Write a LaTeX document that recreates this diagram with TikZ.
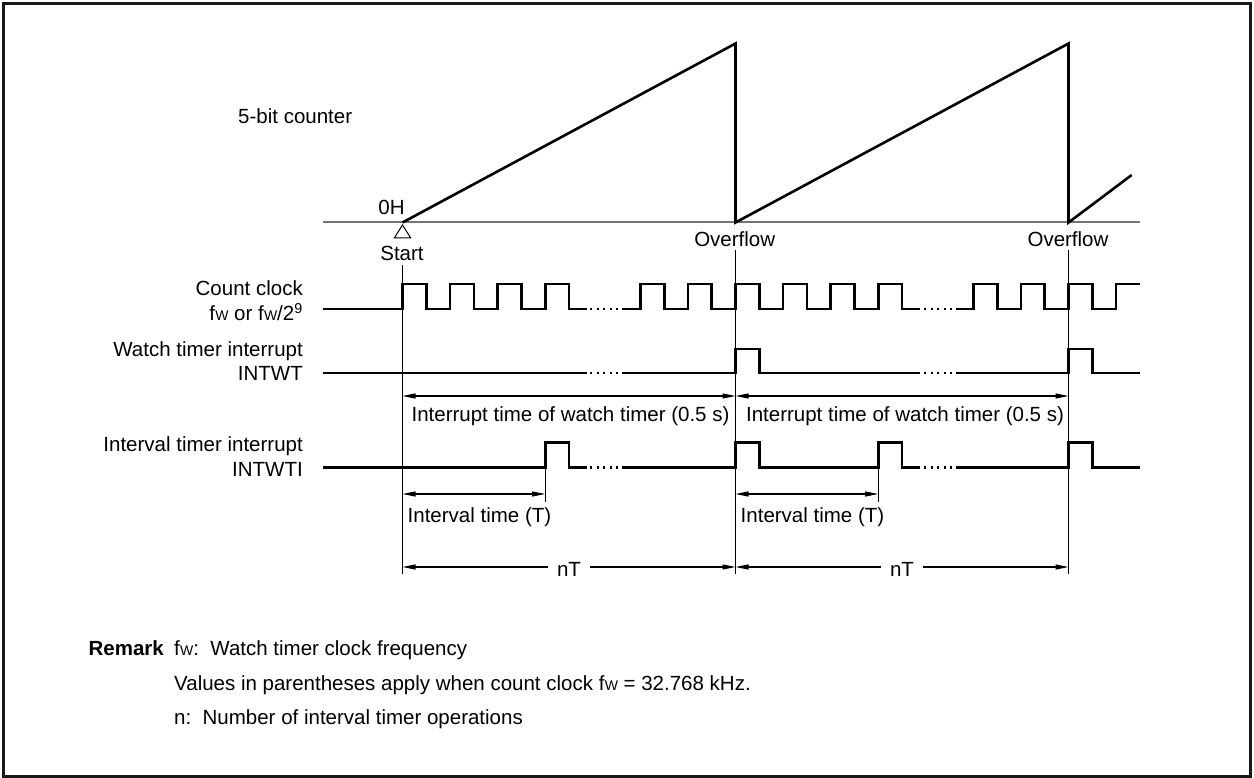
\documentclass[tikz,border=0pt]{standalone}
\usepackage{fontspec}
\setmainfont{Liberation Sans}
\usetikzlibrary{arrows.meta}
\newcommand\dgfont{\fontsize{20.5}{24}\selectfont}
\newcommand\fW{f\kern0.2pt{\fontsize{14}{14}\selectfont W}}
\begin{document}
\begin{tikzpicture}[x=1pt,y=-1pt,
  sig/.style={line width=2.6pt, line join=miter, line cap=butt},
  dotseg/.style={line width=2.3pt, dash pattern=on 2pt off 4.5pt},
  guide/.style={line width=1.1pt},
  dim/.style={line width=1.1pt, {Triangle[length=13pt,width=5pt]}-{Triangle[length=13pt,width=5pt]}},
  lbl/.style={font=\dgfont, inner sep=0pt},
]
\useasboundingbox (0,0) rectangle (1254,778);
\draw[line width=2.2pt, black!90] (3.5,3.5) rectangle (1250.5,776.5);

% counter
\draw[line width=2pt, black!55] (323,222.5) -- (1140,222.5);
\draw[sig] (402.5,222.5) -- (735.5,43.5) -- (735.5,222.5) -- (1068.5,43.5) -- (1068.5,222.5) -- (1131.7,175);
\draw[line width=1pt, fill=white] (402.5,225) -- (394.3,238) -- (410.7,238) -- cycle;

% count clock
\draw[sig] (323,309) -- (402.5,309) -- (402.5,284) -- (426.3,284) -- (426.3,309) -- (450.1,309) -- (450.1,284) -- (473.9,284) -- (473.9,309) -- (497.6,309) -- (497.6,284) -- (521.4,284) -- (521.4,309) -- (545.2,309) -- (545.2,284) -- (569,284) -- (569,309) -- (586.5,309);
\draw[dotseg] (590,309) -- (618,309);
\draw[sig] (622,309) -- (640.4,309) -- (640.4,284) -- (664.2,284) -- (664.2,309) -- (687.9,309) -- (687.9,284) -- (711.7,284) -- (711.7,309) -- (735.5,309) -- (735.5,284) -- (759.3,284) -- (759.3,309) -- (783.1,309) -- (783.1,284) -- (806.9,284) -- (806.9,309) -- (830.6,309) -- (830.6,284) -- (854.4,284) -- (854.4,309) -- (878.2,309) -- (878.2,284) -- (902,284) -- (902,309) -- (920,309);
\draw[dotseg] (924,309) -- (952,309);
\draw[sig] (956,309) -- (973.4,309) -- (973.4,284) -- (997.2,284) -- (997.2,309) -- (1020.9,309) -- (1020.9,284) -- (1044.7,284) -- (1044.7,309) -- (1068.5,309) -- (1068.5,284) -- (1092.3,284) -- (1092.3,309) -- (1116.1,309) -- (1116.1,284) -- (1140,284);

% INTWT
\draw[sig] (323,373) -- (586.5,373);
\draw[dotseg] (590,373) -- (618,373);
\draw[sig] (622,373) -- (735.5,373) -- (735.5,349) -- (759.3,349) -- (759.3,373) -- (920,373);
\draw[dotseg] (924,373) -- (952,373);
\draw[sig] (956,373) -- (1068.5,373) -- (1068.5,349) -- (1092.3,349) -- (1092.3,373) -- (1140,373);

% INTWTI
\draw[sig] (323,467.5) -- (545.2,467.5) -- (545.2,442.5) -- (569,442.5) -- (569,467.5) -- (586.5,467.5);
\draw[dotseg] (590,467.5) -- (618,467.5);
\draw[sig] (622,467.5) -- (735.5,467.5) -- (735.5,442.5) -- (759.3,442.5) -- (759.3,467.5) -- (878.2,467.5) -- (878.2,442.5) -- (902,442.5) -- (902,467.5) -- (920,467.5);
\draw[dotseg] (924,467.5) -- (952,467.5);
\draw[sig] (956,467.5) -- (1068.5,467.5) -- (1068.5,442.5) -- (1092.3,442.5) -- (1092.3,467.5) -- (1140,467.5);

% guides
\draw[guide] (402.5,265) -- (402.5,574);
\draw[guide] (735.5,250) -- (735.5,574);
\draw[guide] (1068.5,250) -- (1068.5,574);
\draw[guide] (545.2,467.5) -- (545.2,502);
\draw[guide] (878.2,467.5) -- (878.2,502);

% dimension arrows
\draw[dim] (402.5,396) -- (735.5,396);
\draw[dim] (735.5,396) -- (1068.5,396);
\draw[dim] (402.5,494) -- (545.2,494);
\draw[dim] (735.5,494) -- (878.2,494);
\draw[dim] (402.5,567) -- (735.5,567);
\draw[dim] (735.5,567) -- (1068.5,567);

% labels
\node[lbl, anchor=base west] (cnt) at (238,123.3) {5-bit counter};
\node[lbl, anchor=base] (zh) at (391.5,215) {0H};
\node[lbl, anchor=base] (st) at (402,261) {Start};
\node[lbl, anchor=base] (ov1) at (734.7,246.7) {Overflow};
\node[lbl, anchor=base] (ov2) at (1068,246.7) {Overflow};
\node[lbl, anchor=base east] (cc1) at (303,296) {Count clock};
\node[lbl, anchor=base east] (cc2) at (303,320.7) {\fW{} or \fW/2\textsuperscript{9}};
\node[lbl, anchor=base east] (wt1) at (303,356) {Watch timer interrupt};
\node[lbl, anchor=base east] (wt2) at (303,380.7) {INTWT};
\node[lbl, anchor=base east] (it1) at (303,451.7) {Interval timer interrupt};
\node[lbl, anchor=base east] (it2) at (303,476) {INTWTI};
\node[lbl, anchor=base] (irq1) at (570.5,421) {Interrupt time of watch timer (0.5 s)};
\node[lbl, anchor=base] (irq2) at (905,421) {Interrupt time of watch timer (0.5 s)};
\node[lbl, anchor=base west] (iv1) at (407.5,522.7) {Interval time (T)};
\node[lbl, anchor=base west] (iv2) at (740.5,522.7) {Interval time (T)};
\node[lbl, anchor=base, fill=white, inner xsep=9pt, inner ysep=1pt] (nt1) at (569,576) {nT};
\node[lbl, anchor=base, fill=white, inner xsep=9pt, inner ysep=1pt] (nt2) at (902,576) {nT};

% remark
\node[lbl, font=\dgfont\bfseries, anchor=base east] (rm) at (164,655) {Remark};
\node[lbl, anchor=base west] (r1) at (174,655) {\fW:\ \ Watch timer clock frequency};
\node[lbl, anchor=base west] (r2) at (174,690) {Values in parentheses apply when count clock \fW{} = 32.768 kHz.};
\node[lbl, anchor=base west] (r3) at (174,724) {n:\ \ Number of interval timer operations};
\end{tikzpicture}
\end{document}
